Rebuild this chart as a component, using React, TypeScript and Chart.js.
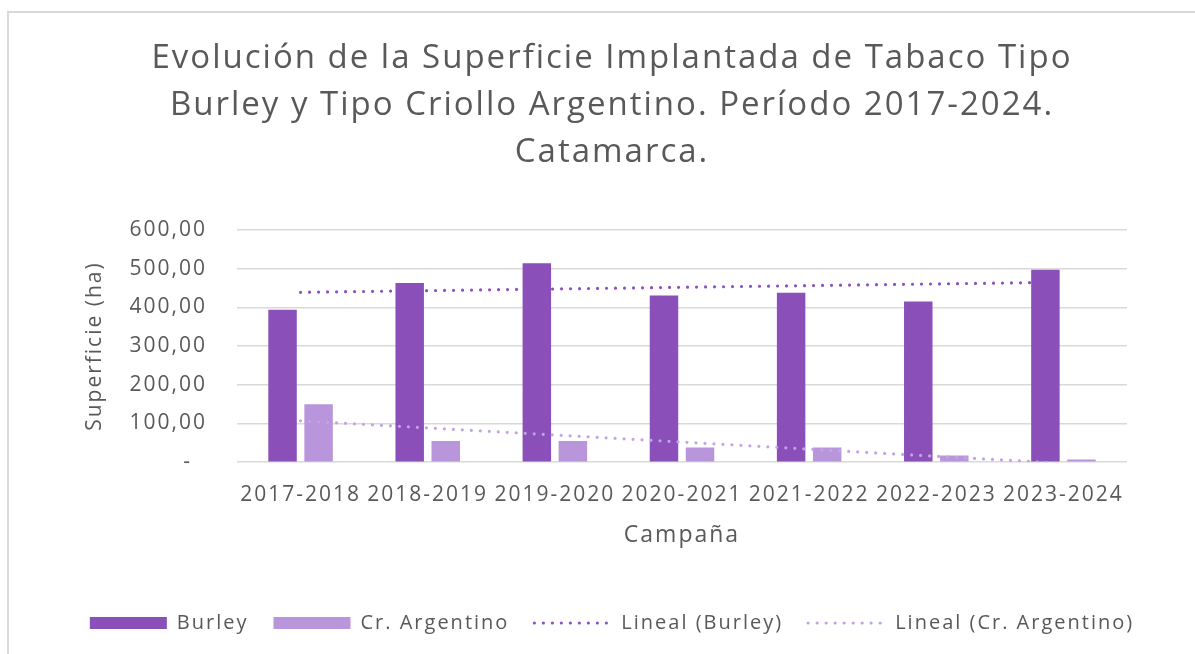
import React, { useEffect, useRef } from 'react';
import { Chart, registerables } from 'chart.js';

Chart.register(...registerables);

const titleLines = [
  'Evolución de la Superficie Implantada de Tabaco Tipo',
  'Burley y Tipo Criollo Argentino. Período 2017-2024.',
  'Catamarca.',
];
const campaigns = ['2017-2018', '2018-2019', '2019-2020', '2020-2021', '2021-2022', '2022-2023', '2023-2024'];
const burley = [394, 463, 514, 431, 438, 415, 497];
const crArgentino = [150, 55, 55, 38, 38, 17, 7];
// Lineal trend lines: endpoints read at the first and last campaign
const burleyTrend = [439, null, null, null, null, null, 465];
const crArgentinoTrend = [107, null, null, null, null, null, -3];
const seriesNames = ['Burley', 'Cr. Argentino', 'Lineal (Burley)', 'Lineal (Cr. Argentino)'];
const yAxisTitle = 'Superficie (ha)';
const xAxisTitle = 'Campaña';

const FONT = "'Open Sans', sans-serif";
const GREY = '#595959';
const COLORS = ['#8A4FB9', '#B995DC', '#8C50C0', '#C3A3E6'];

const letterSpacingPlugin = {
  id: 'letterSpacing',
  beforeUpdate(chart: any) {
    chart.ctx.letterSpacing = '2px';
  },
  beforeDraw(chart: any) {
    chart.ctx.letterSpacing = '2px';
  },
};

export default function App() {
  const ref = useRef<HTMLCanvasElement>(null);
  useEffect(() => {
    if (!ref.current) return;
    const trendCommon = {
      type: 'line',
      borderWidth: 3.2,
      borderDash: [0, 9],
      borderCapStyle: 'round',
      pointRadius: 0,
      spanGaps: true,
      fill: false,
      order: 1,
    };
    const barCommon = {
      type: 'bar',
      borderWidth: 0,
      order: 2,
      categoryPercentage: 0.567,
      barPercentage: 0.79,
    };
    const chart = new Chart(ref.current, {
      type: 'bar',
      data: {
        labels: campaigns,
        datasets: [
          { ...barCommon, label: seriesNames[0], data: burley, backgroundColor: COLORS[0] } as any,
          { ...barCommon, label: seriesNames[1], data: crArgentino, backgroundColor: COLORS[1] } as any,
          { ...trendCommon, label: seriesNames[2], data: burleyTrend, borderColor: COLORS[2], backgroundColor: COLORS[2] } as any,
          { ...trendCommon, label: seriesNames[3], data: crArgentinoTrend, borderColor: COLORS[3], backgroundColor: COLORS[3] } as any,
        ],
      },
      plugins: [letterSpacingPlugin as any],
      options: {
        responsive: false,
        animation: false,
        devicePixelRatio: 1,
        layout: { padding: { left: 33, right: 4, top: 12, bottom: 11 } },
        plugins: {
          tooltip: { enabled: false },
          title: {
            display: true,
            text: titleLines,
            color: GREY,
            font: { family: FONT, size: 33, weight: 'normal', lineHeight: '47px' as any },
            padding: { top: 23, bottom: 54 },
          },
          legend: {
            position: 'bottom',
            labels: {
              usePointStyle: true,
              pointStyleWidth: 77,
              boxHeight: 12,
              color: GREY,
              padding: 25,
              font: { family: FONT, size: 20 },
              sort: (a: any, b: any) => a.datasetIndex - b.datasetIndex,
              generateLabels: (c: any) => {
                const items = (Chart.defaults.plugins.legend.labels as any).generateLabels(c);
                return items.map((it: any) => {
                  const ds = c.data.datasets[it.datasetIndex];
                  if (ds.type === 'line') {
                    it.pointStyle = 'line';
                    it.lineDash = [0, 9];
                    it.lineCap = 'round';
                    it.lineWidth = 3.2;
                    it.strokeStyle = ds.borderColor;
                    it.fillStyle = ds.borderColor;
                  } else {
                    it.pointStyle = 'rect';
                    it.lineWidth = 0;
                    it.fillStyle = ds.backgroundColor;
                  }
                  return it;
                });
              },
            },
          },
        },
        scales: {
          x: {
            grid: { display: false, drawTicks: false },
            border: { display: false },
            ticks: { color: GREY, font: { family: FONT, size: 21 }, padding: 20, maxRotation: 0 },
            title: {
              display: true,
              text: xAxisTitle,
              color: GREY,
              font: { family: FONT, size: 23 },
              padding: { top: -6, bottom: 39 },
            },
          },
          y: {
            min: 0,
            max: 600,
            afterFit: (s: any) => {
              s.width = 204;
            },
            grid: { color: '#D9D9D9', lineWidth: 1.5, drawTicks: false },
            border: { display: false },
            ticks: {
              stepSize: 100,
              color: GREY,
              font: { family: FONT, size: 21 },
              padding: 30,
              callback: (v: any) => (Number(v) === 0 ? '-  ' : Number(v).toFixed(2).replace('.', ',')),
            },
            title: {
              display: true,
              text: yAxisTitle,
              color: GREY,
              font: { family: FONT, size: 21 },
              padding: { top: 49, bottom: 0 },
            },
          },
          yRightSpace: {
            position: 'right',
            display: true,
            afterFit: (s: any) => {
              s.width = 64;
            },
            grid: { display: false, drawTicks: false },
            border: { display: false },
            ticks: { display: false },
            title: { display: false },
          },
        },
      },
    } as any);
    return () => chart.destroy();
  }, []);

  return (
    <div style={{ position: 'absolute', left: 0, top: 0, width: 1195, height: 654, overflow: 'hidden', background: '#fff' }}>
      <div
        style={{
          position: 'absolute',
          left: 7,
          top: 11,
          width: 1300,
          height: 800,
          border: '2px solid #D9D9D9',
          boxSizing: 'border-box',
        }}
      />
      <canvas ref={ref} width={1195} height={654} style={{ position: 'absolute', left: 0, top: 0, display: 'block' }} />
    </div>
  );
}
